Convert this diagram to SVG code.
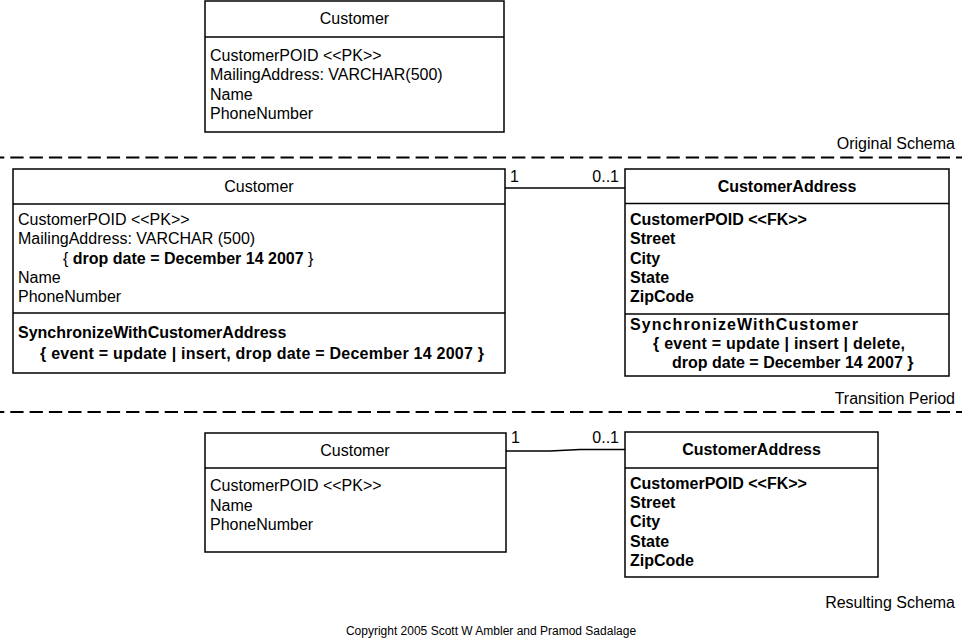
<svg xmlns="http://www.w3.org/2000/svg" width="962" height="638" viewBox="0 0 962 638">
<style>
text{font-family:"Liberation Sans",Arial,sans-serif;font-size:16px;fill:#000}
.b{font-weight:bold}
.c{text-anchor:middle}
.r{text-anchor:end}
.box{fill:#fff;stroke:#000;stroke-width:1.5}
.sep{stroke:#000;stroke-width:1.5}
.dash{stroke:#000;stroke-width:2;stroke-dasharray:13.3 6;stroke-dashoffset:9}
.assoc{stroke:#000;stroke-width:1.5;fill:none}
.small{font-size:12px}
</style>

<g id="dividers">
<line class="dash" x1="0" y1="157.5" x2="962" y2="157.5"/>
<line class="dash" x1="0" y1="412" x2="962" y2="412"/>
<text class="r" x="955" y="149">Original Schema</text>
<text class="r" x="955" y="404">Transition Period</text>
<text class="r" x="955" y="608">Resulting Schema</text>
</g>

<g id="orig-customer">
<rect class="box" x="205" y="1" width="299" height="131"/>
<line class="sep" x1="205" y1="37" x2="504" y2="37"/>
<text class="c" x="354.5" y="24">Customer</text>
<text x="210" y="61">CustomerPOID &lt;&lt;PK&gt;&gt;</text>
<text x="210" y="80">MailingAddress: VARCHAR(500)</text>
<text x="210" y="99.5">Name</text>
<text x="210" y="119">PhoneNumber</text>
</g>

<g id="trans-customer">
<rect class="box" x="13" y="169" width="492" height="204"/>
<line class="sep" x1="13" y1="204" x2="505" y2="204"/>
<line class="sep" x1="13" y1="313" x2="505" y2="313"/>
<text class="c" x="259" y="192">Customer</text>
<text x="18" y="225">CustomerPOID &lt;&lt;PK&gt;&gt;</text>
<text x="18" y="244">MailingAddress: VARCHAR (500)</text>
<text x="63" y="263.5">{ <tspan class="b">drop date = December 14 2007</tspan> }</text>
<text x="18" y="282.5">Name</text>
<text x="18" y="302">PhoneNumber</text>
<text class="b" x="18" y="338">SynchronizeWithCustomerAddress</text>
<text class="b" x="40" y="359" textLength="444" lengthAdjust="spacing">{ event = update | insert, drop date = December 14 2007 }</text>
</g>

<g id="trans-address">
<rect class="box" x="625" y="169" width="324" height="207"/>
<line class="sep" x1="625" y1="203.5" x2="949" y2="203.5"/>
<line class="sep" x1="625" y1="314" x2="949" y2="314"/>
<text class="c b" x="787" y="192">CustomerAddress</text>
<text class="b" x="630" y="225">CustomerPOID &lt;&lt;FK&gt;&gt;</text>
<text class="b" x="630" y="244">Street</text>
<text class="b" x="630" y="263.5">City</text>
<text class="b" x="630" y="282.5">State</text>
<text class="b" x="630" y="302">ZipCode</text>
<text class="b" x="630" y="330" textLength="228" lengthAdjust="spacing">SynchronizeWithCustomer</text>
<text class="b" x="653" y="349" textLength="252" lengthAdjust="spacing">{ event = update | insert | delete,</text>
<text class="b" x="672" y="368">drop date = December 14 2007 }</text>
</g>

<g id="res-customer">
<rect class="box" x="205" y="433" width="301" height="119"/>
<line class="sep" x1="205" y1="468" x2="506" y2="468"/>
<text class="c" x="355" y="455.5">Customer</text>
<text x="210" y="491">CustomerPOID &lt;&lt;PK&gt;&gt;</text>
<text x="210" y="510.5">Name</text>
<text x="210" y="530">PhoneNumber</text>
</g>

<g id="res-address">
<rect class="box" x="625" y="432" width="253" height="145"/>
<line class="sep" x1="625" y1="468" x2="878" y2="468"/>
<text class="c b" x="751.5" y="455">CustomerAddress</text>
<text class="b" x="630" y="488.5">CustomerPOID &lt;&lt;FK&gt;&gt;</text>
<text class="b" x="630" y="508">Street</text>
<text class="b" x="630" y="527">City</text>
<text class="b" x="630" y="546.5">State</text>
<text class="b" x="630" y="565.5">ZipCode</text>
</g>

<g id="connectors">
<line class="assoc" x1="505" y1="188" x2="625" y2="188"/>
<text x="510" y="182">1</text>
<text class="r" x="619" y="182">0..1</text>
<polyline class="assoc" points="506,451 550,451 580,449.5 625,449.5"/>
<text x="511" y="443">1</text>
<text class="r" x="619" y="443">0..1</text>
</g>

<text class="c small" x="491" y="635">Copyright 2005 Scott W Ambler and Pramod Sadalage</text>
</svg>
